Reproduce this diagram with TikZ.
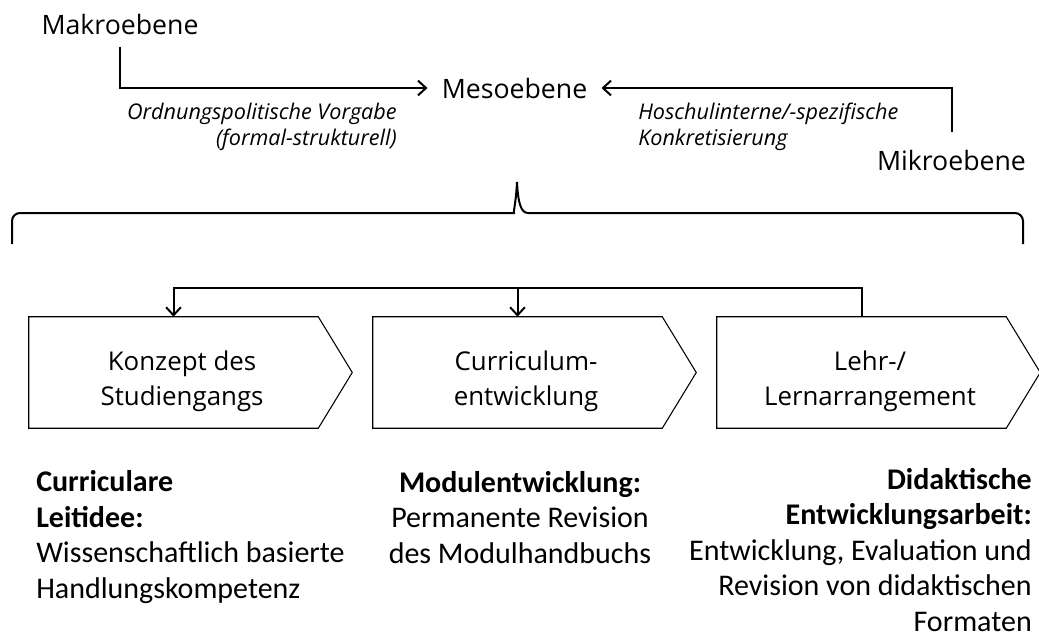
\documentclass[tikz,border=0pt]{standalone}
\usepackage{fontspec}
\setmainfont{Open Sans}
\newfontfamily\calfont{Carlito}
\usetikzlibrary{arrows.meta}

\begin{document}
\begin{tikzpicture}[x=0.75pt,y=-0.75pt,
  level/.style={inner sep=0pt, font=\fontsize{20pt}{26pt}\selectfont},
  note/.style={inner sep=0pt, font=\fontsize{16.2pt}{19.5pt}\selectfont\itshape},
  flow/.style={line width=1.5pt, -{Straight Barb[length=6pt,width=11pt]}},
  brace/.style={line width=1.5pt},
  body/.style={inner sep=0pt, minimum width=216.75pt, minimum height=83.25pt},
  boxtext/.style={inner sep=0pt, align=center, xshift=6.4pt, yshift=-6.5pt,
    font=\fontsize{19.4pt}{26.25pt}\selectfont},
  outline/.style={line width=0.8pt, line join=miter},
  desc/.style={inner sep=0pt, font=\calfont\fontsize{22.5pt}{26.6pt}\selectfont}]

  \useasboundingbox (0,0) rectangle (1039,637);

  % the three levels
  \node[level, anchor=base] (mak) at (120,34) {Makroebene};
  \node[level, anchor=base, inner xsep=10.5pt] (meso) at (514.5,98) {Mesoebene};
  \node[level, anchor=base] (mik) at (951.5,170) {Mikroebene};

  \draw[flow, shorten <=9pt] (mak.south) |- (meso.west);
  \draw[flow, shorten <=13pt] (mik.north) |- (meso.east);

  % multi-line nodes are anchored at the baseline of their last line
  \node[note, anchor=base east, align=right] (n1) at (397,145)
    {Ordnungspolitische Vorgabe\\(formal-strukturell)};
  \node[note, anchor=base west, align=left] (n2) at (638,145)
    {Hoschulinterne/-spezifische\\Konkretisierung};

  % curly brace below the meso level
  \draw[brace] (12,244) [rounded corners=6pt] -- (12,213) -- (506,213) [sharp corners]
    .. controls (513,213) and (516,203) .. (517,182)
    .. controls (518,203) and (521,213) .. (528,213)
    [rounded corners=6pt] -- (1023,213) -- (1023,244);

  % process steps
  \node[body, label={[boxtext]center:Konzept des\\Studiengangs}] (b1) at (173.5,372.5) {};
  \node[body, label={[boxtext]center:Curriculum-\\entwicklung}] (b2) at (517.5,372.5) {};
  \node[body, label={[boxtext]center:Lehr-/\\Lernarrangement}] (b3) at (861.5,372.5) {};
  \foreach \b in {b1,b2,b3}
    \draw[outline] (\b.north west) -- (\b.north east) -- ([xshift=25.5pt]\b.east)
      -- (\b.south east) -- (\b.south west) -- cycle;

  \coordinate (bus) at (0,288);
  \draw[flow] (b3.north) -- (b3.north |- bus) -| (b1.north);
  \draw[flow] (b2.north |- bus) -- (b2.north);

  % descriptions
  \node[desc, anchor=base west, align=left] (d1) at (36,598)
    {\textbf{Curriculare}\\\textbf{Leitidee:}\\Wissenschaftlich basierte\\Handlungskompetenz};
  \node[desc, anchor=base, align=center] (d2) at (520,563)
    {\textbf{Modulentwicklung:}\\Permanente Revision\\des Modulhandbuchs};
  \node[desc, anchor=base east, align=right] (d3) at (1032,631)
    {\textbf{Didaktische}\\\textbf{Entwicklungsarbeit:}\\Entwicklung, Evaluation und\\Revision von didaktischen\\Formaten};
\end{tikzpicture}
\end{document}
